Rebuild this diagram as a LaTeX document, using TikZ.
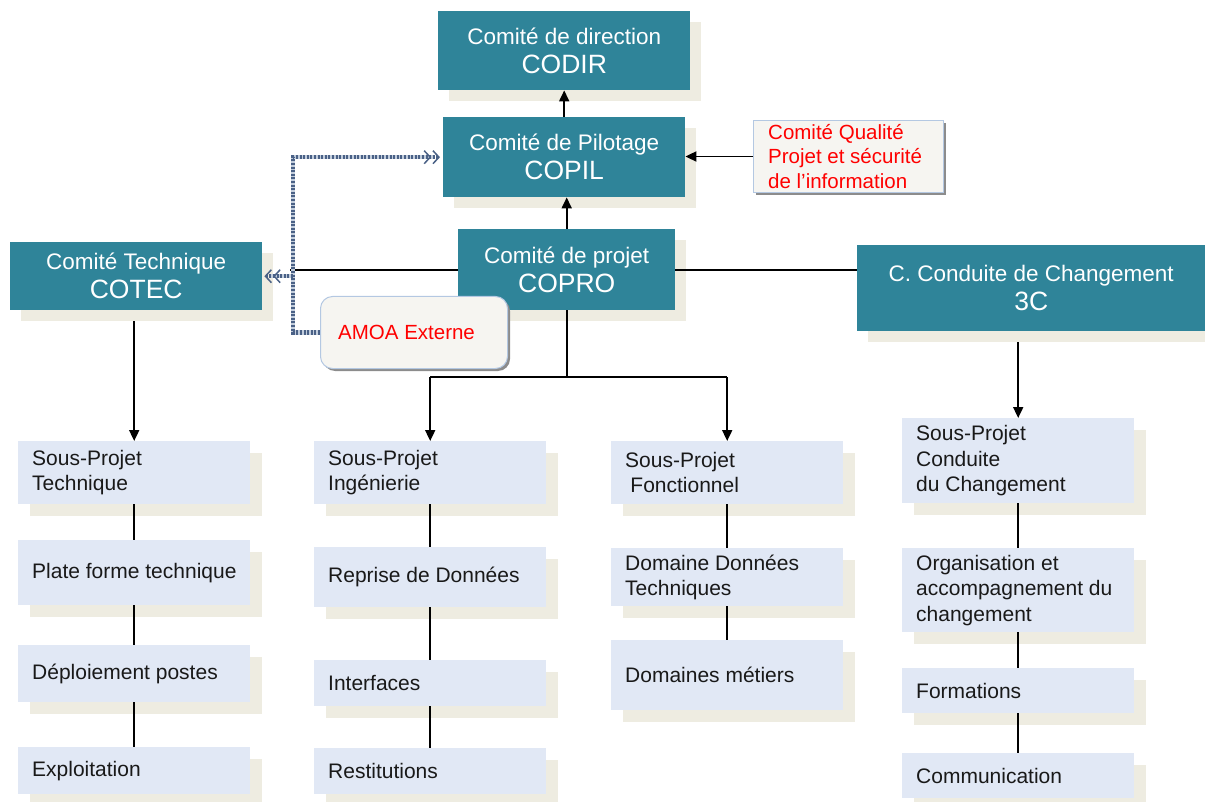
\documentclass[tikz,border=0pt]{standalone}
\usepackage{fontspec}
\setmainfont{Liberation Sans}
\usetikzlibrary{arrows.meta,shadows}
\definecolor{teal2}{HTML}{2F8499}
\definecolor{subblue}{HTML}{E1E8F5}
\definecolor{shbeige}{HTML}{EEECE1}
\definecolor{notefill}{HTML}{F6F5F1}
\definecolor{noteborder}{HTML}{B4C8E2}
\definecolor{hatch}{HTML}{4A6186}
\definecolor{hatchlight}{HTML}{C3CEDD}
\newcommand\mysub[5]{%
  \node[sub, minimum height=#4pt] (#1) at (#2,#3) {};
  \node[subtext] (#1-t) at ([xshift=14pt]#1.west) {#5};}
\begin{document}
\begin{tikzpicture}[x=1pt,y=-1pt,
 head/.style={fill=teal2, text=white, anchor=north west, inner sep=0pt, align=center,
   font=\fontsize{22.5}{29}\selectfont,
   general shadow={fill=shbeige, shadow xshift=11pt, shadow yshift=-11pt}},
 sub/.style={fill=subblue, anchor=north west, inner sep=0pt, minimum width=232pt,
   general shadow={fill=shbeige, shadow xshift=12pt, shadow yshift=-12pt}},
 subtext/.style={anchor=west, align=left, inner sep=0pt, font=\fontsize{21}{25.5}\selectfont, text=black!90},
 note/.style={fill=notefill, draw=noteborder, line width=1pt, anchor=north west, inner sep=0pt,
   general shadow={fill=black!45, shadow xshift=2.5pt, shadow yshift=-2.5pt}},
 notetext/.style={anchor=west, align=left, inner sep=0pt, text=red, font=\fontsize{20.5}{24.5}\selectfont},
 link/.style={line width=1.8pt, black},
 arr/.style={link, -{Triangle[length=11pt,width=10pt]}},
 hatchbase/.style={line width=4.5pt, hatchlight},
 hatched/.style={line width=4.5pt, hatch, dash pattern=on 2pt off 1.6pt,
   -{Straight Barb[length=6pt,width=13pt,line width=1.5pt,sep=1pt] Straight Barb[length=6pt,width=13pt,line width=1.5pt]}},
]
\useasboundingbox (0,0) rectangle (1205,802);

% heads
\node[head, minimum width=252pt, minimum height=79pt] (codir) at (438,11)
  {Comité de direction\\{\fontsize{26.5}{29}\selectfont CODIR}};
\node[head, minimum width=242pt, minimum height=80pt] (copil) at (443,117)
  {Comité de Pilotage\\{\fontsize{26.5}{29}\selectfont COPIL}};
\node[head, minimum width=217pt, minimum height=81pt] (copro) at (458,229)
  {Comité de projet\\{\fontsize{26.5}{29}\selectfont COPRO}};
\node[head, minimum width=252pt, minimum height=68pt] (cotec) at (10,242)
  {Comité Technique\\{\fontsize{26.5}{29}\selectfont COTEC}};
\node[head, minimum width=348pt, minimum height=86pt] (c3) at (857,245)
  {C. Conduite de Changement\\{\fontsize{26.5}{29}\selectfont 3C}};

% notes
\node[note, minimum width=190pt, minimum height=72pt] (qual) at (753,120) {};
\node[notetext] (qual-t) at ([xshift=15pt]qual.west) {Comité Qualité\\Projet et sécurité\\de l’information};
\node[note, rounded corners=12pt, minimum width=187pt, minimum height=72pt] (amoa) at (320,296) {};
\node[notetext] (amoa-t) at ([xshift=18pt]amoa.west) {AMOA Externe};

% sub-projects
\mysub{spt}{18}{441}{63}{Sous-Projet\\Technique}
\mysub{pft}{18}{540}{65}{Plate forme technique}
\mysub{dp}{18}{645}{57}{Déploiement postes}
\mysub{ex}{18}{747}{47}{Exploitation}

\mysub{spi}{314}{441}{63}{Sous-Projet\\Ingénierie}
\mysub{rd}{314}{547}{60}{Reprise de Données}
\mysub{itf}{314}{660}{46}{Interfaces}
\mysub{rs}{314}{748}{46}{Restitutions}

\mysub{spf}{611}{441}{63}{Sous-Projet\\\hspace*{0.25em}Fonctionnel}
\mysub{ddt}{611}{548}{58}{Domaine Données\\Techniques}
\mysub{dm}{611}{640}{70}{Domaines métiers}

\mysub{spc}{902}{418}{85}{Sous-Projet\\Conduite\\du Changement}
\mysub{oac}{902}{548}{84}{Organisation et\\accompagnement du\\changement}
\mysub{fo}{902}{668}{45}{Formations}
\mysub{co}{902}{753}{45}{Communication}

% connectors
\coordinate (tecend) at (290,0);
\coordinate (hv) at (293,0);
\coordinate (bus) at (0,377);
\coordinate (cotecb) at ([yshift=-11pt]cotec.south);
\coordinate (c3b) at ([yshift=-11pt]c3.south);

\draw[arr] (copil.north) -- (codir.south);
\draw[arr] (copro.north) -- (copro.north |- copil.south);
\draw[arr] (qual.west) -- (qual.west -| copil.east);
\draw[link] (copro.west) -- (copro.west -| tecend);
\draw[link] (copro.east) -- (copro.east -| c3.west);

\draw[arr] (spt.north |- cotecb) -- (spt.north);
\draw[link] (copro.south) -- (copro.south |- bus) (spi.north |- bus) -- (spf.north |- bus);
\draw[arr] (spi.north |- bus) -- (spi.north);
\draw[arr] (spf.north |- bus) -- (spf.north);
\draw[arr] (spc.north |- c3b) -- (spc.north);

\draw[link] (spt.south) -- (pft.north) (pft.south) -- (dp.north) (dp.south) -- (ex.north);
\draw[link] (spi.south) -- (rd.north) (rd.south) -- (itf.north) (itf.south) -- (rs.north);
\draw[link] (spf.south) -- (ddt.north) (ddt.south) -- (dm.north);
\draw[link] (spc.south) -- (oac.north) (oac.south) -- (fo.north) (fo.south) -- (co.north);

% hatched AMOA links
\draw[hatchbase, shorten >=8pt] (amoa.west) -- (amoa.west -| hv) -- (hv |- copil.west) -- (copil.west);
\draw[hatchbase, shorten >=8pt] (hv |- cotec.east) -- (cotec.east);
\draw[hatched, shorten >=3pt] (amoa.west) -- (amoa.west -| hv) -- (hv |- copil.west) -- (copil.west);
\draw[hatched, shorten >=2pt] (hv |- cotec.east) -- (cotec.east);
\end{tikzpicture}
\end{document}
